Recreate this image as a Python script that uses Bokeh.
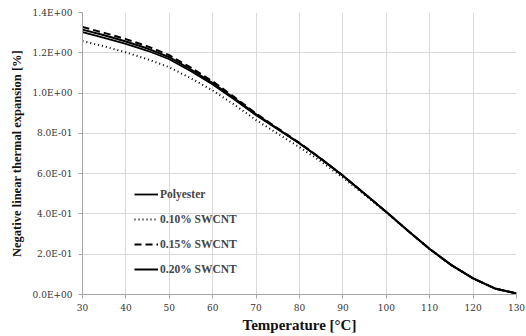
from bokeh.plotting import figure
from bokeh.models import Range1d, FixedTicker, Legend, LegendItem
from bokeh.embed import file_html
from bokeh.resources import INLINE

temperature = [30, 35, 40, 45, 50, 55, 60, 65, 70, 75, 80, 85, 90, 95, 100, 105, 110, 115, 120, 125, 130]
polyester = [1.302, 1.274, 1.244, 1.210, 1.168, 1.108, 1.043, 0.968, 0.890, 0.820, 0.750, 0.673, 0.590, 0.500, 0.410, 0.316, 0.226, 0.146, 0.080, 0.030, 0.005]
swcnt_010 = [1.258, 1.232, 1.202, 1.168, 1.128, 1.073, 1.013, 0.942, 0.866, 0.798, 0.731, 0.660, 0.580, 0.495, 0.408, 0.315, 0.225, 0.145, 0.080, 0.030, 0.005]
swcnt_015 = [1.328, 1.299, 1.268, 1.232, 1.188, 1.126, 1.058, 0.980, 0.898, 0.825, 0.753, 0.674, 0.590, 0.500, 0.410, 0.316, 0.226, 0.146, 0.080, 0.030, 0.005]
swcnt_020 = [1.315, 1.287, 1.256, 1.221, 1.178, 1.117, 1.050, 0.974, 0.894, 0.822, 0.751, 0.673, 0.590, 0.500, 0.410, 0.316, 0.226, 0.146, 0.080, 0.030, 0.005]

x_ticks = [30, 40, 50, 60, 70, 80, 90, 100, 110, 120, 130]
y_ticks = [0.0, 0.2, 0.4, 0.6, 0.8, 1.0, 1.2, 1.4]
y_tick_labels = ["0.0E+00", "2.0E-01", "4.0E-01", "6.0E-01", "8.0E-01", "1.0E+00", "1.2E+00", "1.4E+00"]

series_names = ["Polyester", "0.10% SWCNT", "0.15% SWCNT", "0.20% SWCNT"]

FONT = "Liberation Serif"
TICK_FONT = "DejaVu Serif"

p = figure(width=526, height=336, output_backend="svg", toolbar_location=None,
           x_range=Range1d(30, 130), y_range=Range1d(0, 1.4),
           min_border_left=82, min_border_right=10, min_border_top=12, min_border_bottom=42)
p.outline_line_color = None
p.background_fill_color = "white"
p.border_fill_color = "white"

p.xaxis.ticker = FixedTicker(ticks=x_ticks)
p.yaxis.ticker = FixedTicker(ticks=y_ticks)
p.yaxis.major_label_overrides = {v: s for v, s in zip(y_ticks, y_tick_labels)}

for ax in (p.xaxis, p.yaxis):
    ax.axis_line_color = "#a6a6a6"
    ax.major_tick_line_color = "#a6a6a6"
    ax.minor_tick_line_color = None
    ax.major_tick_out = 4
    ax.major_tick_in = 0
    ax.major_label_text_font = TICK_FONT
    ax.major_label_text_font_size = "9px"
    ax.major_label_text_color = "#333333"
    ax.axis_label_text_font = FONT
    ax.axis_label_text_font_style = "bold"
    ax.axis_label_text_color = "#111111"

p.yaxis.major_label_standoff = 6
p.xaxis.major_label_standoff = 5
p.xaxis.axis_label = "Temperature [°C]"
p.xaxis.axis_label_text_font_size = "15px"
p.xaxis.axis_label_standoff = 3
p.yaxis.axis_label = "Negative linear thermal expansion [%]"
p.yaxis.axis_label_text_font_size = "12.5px"
p.yaxis.axis_label_standoff = 6

p.xgrid.grid_line_color = "#d9d9d9"
p.ygrid.grid_line_color = "#d9d9d9"

r0 = p.line(temperature, polyester, line_color="black", line_width=1.8)
r1 = p.line(temperature, swcnt_010, line_color="black", line_width=2, line_dash="1 3")
r2 = p.line(temperature, swcnt_015, line_color="black", line_width=2, line_dash="7 4")
r3 = p.line(temperature, swcnt_020, line_color="black", line_width=2)

legend = Legend(items=[LegendItem(label=n, renderers=[r]) for n, r in zip(series_names, [r0, r1, r2, r3])],
                location=(52, 16))
legend.background_fill_alpha = 0
legend.border_line_color = None
legend.label_text_font = FONT
legend.label_text_font_style = "bold"
legend.label_text_font_size = "11.5px"
legend.glyph_width = 24
legend.glyph_height = 18
legend.label_height = 18
legend.spacing = 7
legend.label_standoff = 2
legend.padding = 4
p.add_layout(legend)

open("out.html", "w").write(file_html(p, INLINE))
